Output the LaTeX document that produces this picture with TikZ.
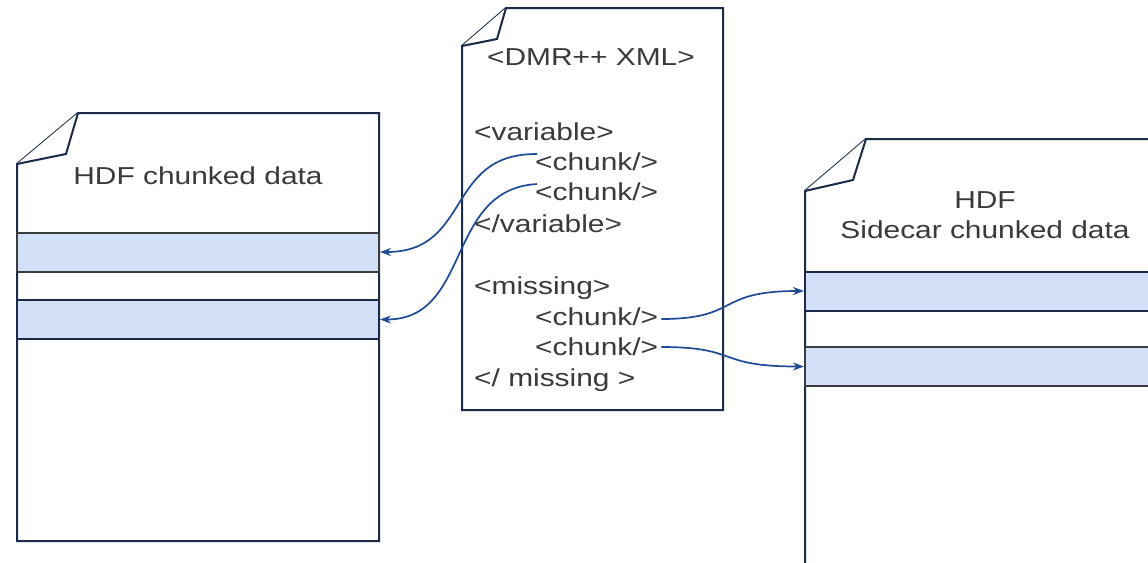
\documentclass[tikz,border=0pt]{standalone}
\usepackage{fontspec}
\setmainfont{Liberation Sans}[FakeStretch=1.22]
\usetikzlibrary{calc,arrows.meta}
\definecolor{navy}{HTML}{1B2A4A}
\definecolor{bandfill}{HTML}{D2E0F7}
\definecolor{bandgrey}{HTML}{3C3C3C}
\definecolor{txt}{HTML}{3A3A3A}
\definecolor{arrowblue}{HTML}{1F4A96}
\tikzset{
  doc/.style={draw=navy, line width=2pt, fill=white, line join=miter},
  band/.style={draw=navy, line width=2pt, fill=bandfill, inner sep=0pt},
  gband/.style={band, draw=bandgrey},
  lbl/.style={text=txt, font=\fontsize{24.5}{29}\selectfont, inner sep=0pt, anchor=base west},
  title/.style={text=txt, font=\fontsize{24.5}{30}\selectfont, inner sep=0pt, align=center},
  conn/.style={draw=arrowblue, line width=1.7pt, -{Stealth[length=11pt,width=8pt]}},
}
\begin{document}
\begin{tikzpicture}[x=1pt,y=-1pt]
\useasboundingbox (0,0) rectangle (1148,562);
\clip (0,0) rectangle (1148,562);
% left document
\draw[doc] (78,113) -- (379,113) -- (379,541) -- (17,541) -- (17,164) -- cycle;
\draw[doc] (17,164) -- (66,154) -- (78,113);
\node[gband, minimum width=362pt, minimum height=39pt] (L1) at (198,252) {};
\node[band, minimum width=362pt, minimum height=39pt] (L2) at (198,319.5) {};
\node[title] (ltitle) at (198,176) {HDF chunked data};
% middle document
\draw[doc] (506,8) -- (723,8) -- (723,410) -- (462,410) -- (462,46) -- cycle;
\draw[doc] (462,46) -- (497,39) -- (506,8);
\node[title] (mtitle) at (591,57) {<DMR++ XML>};
\node[lbl] (var) at (474,140) {<variable>};
\node[lbl] (c1) at (535,170) {<chunk/>};
\node[lbl] (c2) at (535,200) {<chunk/>};
\node[lbl] (evar) at (474,232) {</variable>};
\node[lbl] (miss) at (474,294) {<missing>};
\node[lbl] (c3) at (535,325) {<chunk/>};
\node[lbl] (c4) at (535,355) {<chunk/>};
\node[lbl] (emiss) at (474,386) {</ missing >};
% right document
\draw[doc] (866,139) -- (1170,139) -- (1170,580) -- (805,580) -- (805,191) -- cycle;
\draw[doc] (805,191) -- (853,180) -- (866,139);
\node[band, minimum width=365pt, minimum height=39pt] (R1) at (987.5,291) {};
\node[gband, minimum width=365pt, minimum height=39pt] (R2) at (987.5,366.5) {};
\node[title] (rtitle) at (985,215) {HDF\\Sidecar chunked data};
% connectors
\coordinate (s1) at ($(c1.north west)+(2,2)$);
\coordinate (s2) at ($(c2.north west)+(2,2)$);
\coordinate (s3) at ($(c3.base east)+(3,-6)$);
\coordinate (s4) at ($(c4.base east)+(3,-8)$);
\draw[conn] (s1) .. controls (445,153) and (472,252) .. (L1.east);
\draw[conn] (s2) .. controls (445,189) and (472,319.5) .. (L2.east);
\draw[conn] (s3) .. controls (740,319) and (715,291) .. (R1.west);
\draw[conn] (s4) .. controls (740,347) and (715,366.5) .. (R2.west);
\end{tikzpicture}
\end{document}
